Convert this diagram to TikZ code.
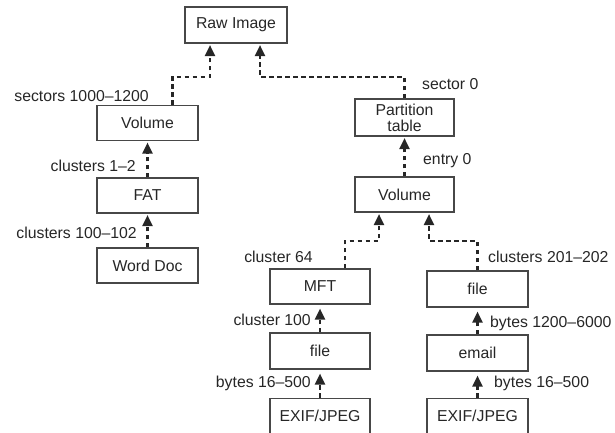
\documentclass[tikz,border=0pt]{standalone}
\usepackage{fontspec}
\setmainfont{Liberation Sans}
\usetikzlibrary{arrows.meta}
\begin{document}
\begin{tikzpicture}[x=1pt,y=-1pt,
  box/.style={draw=black!72,line width=1.1pt,minimum width=101pt,minimum height=35pt,
    inner sep=0pt,text=black!85,font=\fontsize{15.8}{17}\selectfont,align=center},
  lbl/.style={text=black!85,font=\fontsize{15.8}{17}\selectfont,inner sep=0pt},
  link/.style={draw=black!85,line width=2.3pt,dash pattern=on 4.5pt off 3.5pt,
    -{Triangle[width=10pt,length=11pt]},shorten >=1.5pt}]
\useasboundingbox (0,0) rectangle (615,432);
\clip (0,0) rectangle (615,432);

% boxes
\node[box,minimum width=102pt,minimum height=36pt] (raw) at (236,25) {Raw Image};
\node[box] (lvol) at (147.5,123) {Volume};
\node[box] (fat) at (147.5,195.5) {FAT};
\node[box] (word) at (147.5,265.5) {Word Doc};
\node[box,minimum width=99pt,minimum height=37pt] (part) at (404.5,117.5) {Partition\\[-1pt]table};
\node[box,minimum width=99pt] (rvol) at (404.5,194.5) {Volume};
\node[box,minimum width=100pt] (mft) at (320,286.5) {MFT};
\node[box,minimum width=100pt,minimum height=36pt] (lfile) at (320,351) {file};
\node[box,minimum width=100pt] (lexif) at (320,416) {EXIF/JPEG};
\node[box,minimum height=36pt] (rfile) at (477.5,289) {file};
\node[box,minimum height=36pt] (email) at (477.5,353) {email};
\node[box] (rexif) at (477.5,416) {EXIF/JPEG};

% junction points of the bent connectors
\coordinate (jl) at (210,77);
\coordinate (jr) at (260,77);
\coordinate (jm) at (379,241);
\coordinate (jf) at (429,241);

% connectors
\draw[link] ([xshift=25pt]lvol.north) |- (jl) -- (jl |- raw.south);
\draw[link] (part.north) |- (jr) -- (jr |- raw.south);
\draw[link] (fat.north) -- (lvol.south);
\draw[link] (word.north) -- (fat.south);
\draw[link] (rvol.north) -- (part.south);
\draw[link] ([xshift=25pt]mft.north) |- (jm) -- (jm |- rvol.south);
\draw[link] (rfile.north) |- (jf) -- (jf |- rvol.south);
\draw[link,shorten >=4pt] (lfile.north) -- (mft.south);
\draw[link,shorten >=4pt] (lexif.north) -- (lfile.south);
\draw[link,shorten >=4pt] (email.north) -- (rfile.south);
\draw[link,shorten >=4pt] (rexif.north) -- (email.south);

% labels
\node[lbl,anchor=east] (t1) at (149,96) {sectors 1000–1200};
\node[lbl,anchor=east] (t2) at (136,166) {clusters 1–2};
\node[lbl,anchor=east] (t3) at (137,233) {clusters 100–102};
\node[lbl,anchor=west] (t4) at (422,84) {sector 0};
\node[lbl,anchor=west] (t5) at (423,161) {entry 0};
\node[lbl,anchor=east] (t6) at (313,257) {cluster 64};
\node[lbl,anchor=east] (t7) at (311,320) {cluster 100};
\node[lbl,anchor=east] (t8) at (311,383) {bytes 16–500};
\node[lbl,anchor=west] (t9) at (488,257) {clusters 201–202};
\node[lbl,anchor=west] (t10) at (490,323) {bytes 1200–6000};
\node[lbl,anchor=west] (t11) at (494,383) {bytes 16–500};
\end{tikzpicture}
\end{document}
